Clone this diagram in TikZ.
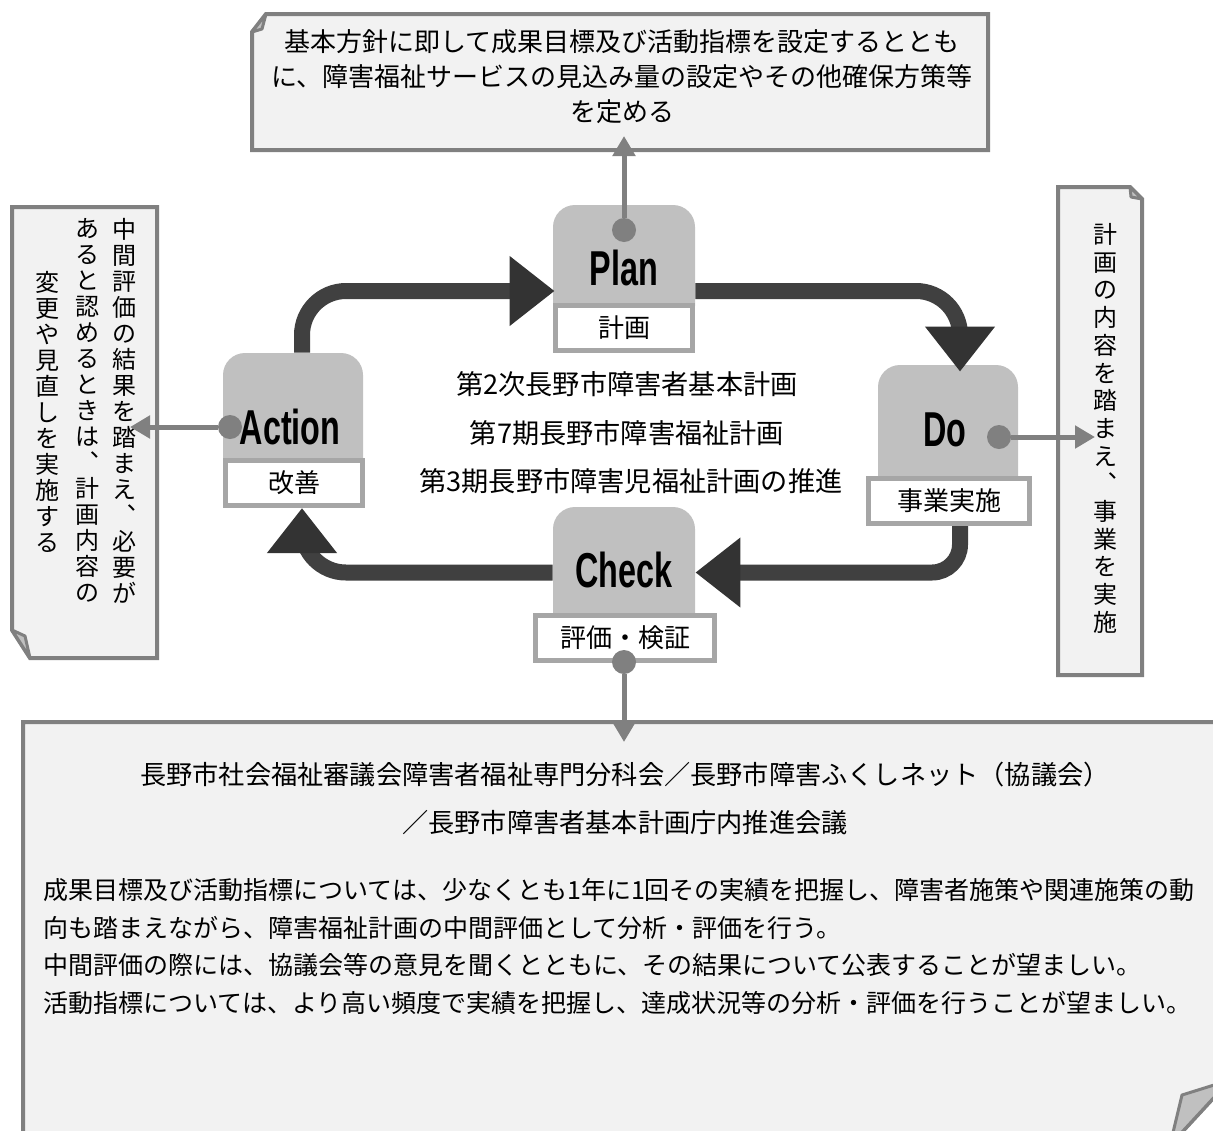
\documentclass[tikz,border=0pt]{standalone}
\usepackage{fontspec}
\usepackage{graphicx}
\setmainfont{Noto Sans CJK JP}
\newfontfamily\latb{Liberation Sans}
\usetikzlibrary{arrows.meta,calc}
\definecolor{boxg}{HTML}{C0C0C0}
\definecolor{lblg}{HTML}{A6A6A6}
\definecolor{dotg}{HTML}{808080}
\definecolor{notef}{HTML}{F2F2F2}
\definecolor{noteb}{HTML}{808080}
\definecolor{cycg}{HTML}{404040}
\definecolor{headg}{HTML}{333333}
\begin{document}
\begin{tikzpicture}[x=0.5pt,y=-0.5pt,
  notebox/.style={fill=notef,draw=noteb,line width=2pt,line join=miter},
  fold/.style={fill=boxg,draw=noteb,line width=1.5pt,line join=round},
  mainbox/.style={fill=boxg,rounded corners=11pt,inner sep=0pt},
  lblbox/.style={fill=white,draw=lblg,line width=2.5pt,inner sep=0pt,minimum height=22.5pt,font=\fontsize{13pt}{15pt}\selectfont},
  bigtxt/.style={inner sep=0pt,font=\latb\bfseries\fontsize{24.5pt}{28pt}\selectfont},
  dotnode/.style={circle,fill=dotg,minimum size=12pt,inner sep=0pt},
  conn/.style={draw=dotg,line width=2.5pt,-{Triangle[length=10pt,width=11pt]}},
  cyc/.style={draw=cycg,line width=8pt,rounded corners=22pt,-{Triangle[length=22.5pt,width=33.5pt,color=headg]}},
  jtxt/.style={inner sep=0pt,font=\fontsize{12.5pt}{17.5pt}\selectfont},
  toptxt/.style={inner sep=0pt,font=\fontsize{13pt}{17.5pt}\selectfont},
  midtxt/.style={inner sep=0pt,font=\fontsize{13.6pt}{17.5pt}\selectfont},
  headtxt/.style={inner sep=0pt,font=\fontsize{13.1pt}{17.5pt}\selectfont},
  vtxt/.style={inner sep=0pt,anchor=north,align=center,font=\fontsize{12pt}{13pt}\selectfont},
  vtxtr/.style={inner sep=0pt,anchor=north,align=center,font=\fontsize{12pt}{13.85pt}\selectfont}
]
\useasboundingbox (0,0) rectangle (1213,1130);
\fill[white] (0,0) rectangle (1213,1130);
\clip (0,0) rectangle (1213,1130);

% note boxes
\draw[notebox] (266,14) -- (988,14) -- (988,150) -- (252,150) -- (252,32) -- cycle;
\draw[fold] (252,32) -- (266,14) -- (262,29) -- cycle;
\node[toptxt,align=center] (topnote) at (622,77) {基本方針に即して成果目標及び活動指標を設定するととも\\に、障害福祉サービスの見込み量の設定やその他確保方策等\\を定める};

\draw[notebox] (12,207) -- (157,207) -- (157,658) -- (30,658) -- (12,630) -- cycle;
\draw[fold] (12,630) -- (25,636) -- (30,658) -- cycle;
\node[vtxt] (lc1) at (124,218) {中\\間\\評\\価\\の\\結\\果\\を\\踏\\ま\\え\\︑\\必\\要\\が};
\node[vtxt] (lc2) at (87,218) {あ\\る\\と\\認\\め\\る\\と\\き\\は\\︑\\計\\画\\内\\容\\の};
\node[vtxt] (lc3) at (47,271) {変\\更\\や\\見\\直\\し\\を\\実\\施\\す\\る};

\draw[notebox] (1058,187) -- (1130,187) -- (1142,199) -- (1142,675) -- (1058,675) -- cycle;
\draw[fold] (1130,187) -- (1142,199) -- (1131,197) -- cycle;
\node[vtxtr] (rc1) at (1105,223) {計\\画\\の\\内\\容\\を\\踏\\ま\\え\\︑\\事\\業\\を\\実\\施};

\draw[notebox] (23,722) -- (1230,722) -- (1230,1080) -- (1170,1145) -- (23,1145) -- cycle;
\draw[fold] (1230,1080) -- (1182,1095) -- (1170,1145) -- cycle;
\node[headtxt] (b1) at (625,775) {長野市社会福祉審議会障害者福祉専門分科会／長野市障害ふくしネット（協議会）};
\node[headtxt] (b2) at (625,823) {／長野市障害者基本計画庁内推進会議};
\node[jtxt,anchor=west] (b3) at (43,890) {成果目標及び活動指標については、少なくとも1年に1回その実績を把握し、障害者施策や関連施策の動};
\node[jtxt,anchor=west] (b4) at (43,928) {向も踏まえながら、障害福祉計画の中間評価として分析・評価を行う。};
\node[jtxt,anchor=west] (b5) at (43,965) {中間評価の際には、協議会等の意見を聞くとともに、その結果について公表することが望ましい。};
\node[jtxt,anchor=west] (b6) at (43,1003) {活動指標については、より高い頻度で実績を把握し、達成状況等の分析・評価を行うことが望ましい。};

% center text
\node[midtxt] (c1) at (627,384) {第2次長野市障害者基本計画};
\node[midtxt] (c2) at (627,433) {第7期長野市障害福祉計画};
\node[midtxt] (c3) at (631,481) {第3期長野市障害児福祉計画の推進};

% main boxes
\node[mainbox,minimum width=71pt,minimum height=61.5pt] (plan) at (624,266.5) {};
\node[lblbox,minimum width=68.5pt] (planlbl) at (624,328) {計画};
\node[mainbox,minimum width=70pt,minimum height=65pt] (act) at (293,418) {};
\node[lblbox,minimum width=68.5pt] (actlbl) at (294,483) {改善};
\node[mainbox,minimum width=70pt,minimum height=68pt] (do) at (948,433) {};
\node[lblbox,minimum width=80.5pt] (dolbl) at (949,501) {事業実施};
\node[mainbox,minimum width=71pt,minimum height=65.5pt] (chk) at (624,572.5) {};
\node[lblbox,minimum width=89.5pt] (chklbl) at (625,638) {評価・検証};

% cycle arrows
\draw[cyc] ($(act.north)+(9,0)$) |- ($(plan.west)+(2,24.5)$);
\draw[cyc] ($(plan.east)+(0,24.5)$) -| ($(do.north)+(12,7)$);
\draw[cyc,rounded corners=14pt] ($(dolbl.south)+(11,0)$) |- ($(chk.east)+(0,0)$);
\draw[cyc] (chk.west) -| ($(actlbl.south)+(8,0)$);

% big titles
\node[bigtxt] (plantxt) at (624,268) {\scalebox{0.66}[1]{Plan}};
\node[bigtxt] (acttxt) at (290,427) {\scalebox{0.66}[1]{Action}};
\node[bigtxt] (dotxt) at (945,430) {\scalebox{0.66}[1]{Do}};
\node[bigtxt] (chktxt) at (624,570) {\scalebox{0.66}[1]{Check}};

% connectors with dots
\node[dotnode] (pdot) at (624,230) {};
\node[dotnode] (adot) at (230,427) {};
\node[dotnode] (ddot) at (999,437) {};
\node[dotnode] (cdot) at (624,662) {};
\coordinate (ptip) at (624,136);
\coordinate (atip) at (130,427);
\coordinate (dtip) at (1095,437);
\coordinate (ctip) at (624,742);
\draw[conn] (pdot) -- (ptip);
\draw[conn] (adot) -- (atip);
\draw[conn] (ddot) -- (dtip);
\draw[conn] (cdot) -- (ctip);
\end{tikzpicture}
\end{document}
